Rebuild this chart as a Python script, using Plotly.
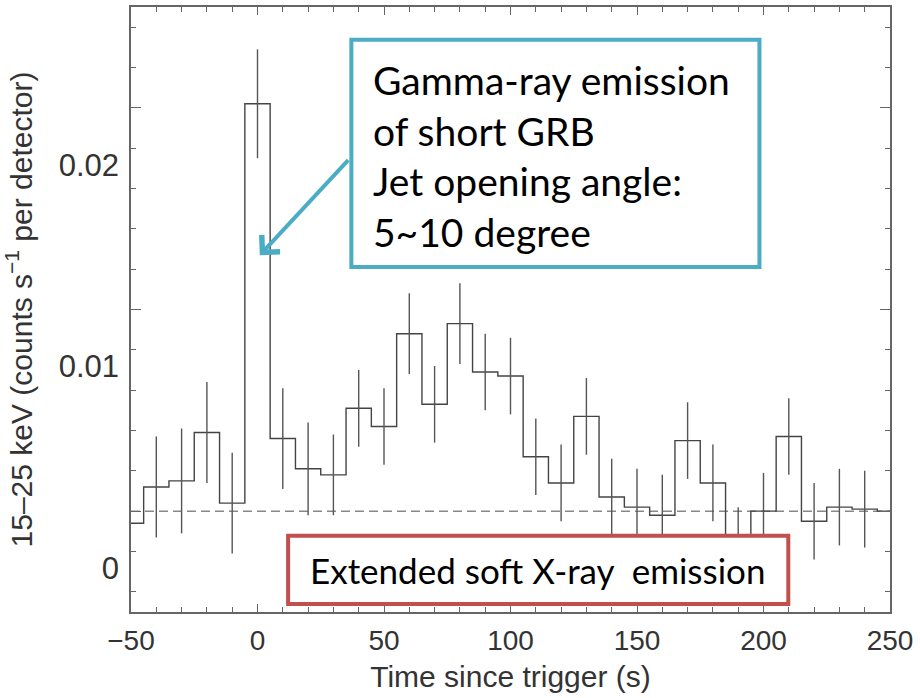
import plotly.graph_objects as go

# ---- data ----
times = [-50, -40, -30, -20, -10, 0, 10, 20, 30, 40, 50, 60, 70, 80, 90, 100,
         110, 120, 130, 140, 150, 160, 170, 180, 190, 200, 210, 220, 230, 240, 250]
rates = [-0.0006, 0.0012, 0.0015, 0.0039, 0.0004, 0.0202, 0.0036, 0.0021, 0.0018,
         0.0051, 0.0042, 0.0088, 0.0053, 0.0093, 0.0069, 0.0067, 0.0027, 0.0014,
         0.0047, 0.0007, 0.0002, -0.0002, 0.0035, 0.0014, -0.0017, 0.0000, 0.0037,
         -0.0005, 0.0002, 0.0001, 0.0000]
errors = [0, 0.0025, 0.0026, 0.0025, 0.0025, 0.0027, 0.0025, 0.0023, 0.0020,
          0.0019, 0.0019, 0.0020, 0.0019, 0.0020, 0.0019, 0.0019, 0.0019, 0.0019,
          0.0019, 0.0019, 0.0019, 0.0020, 0.0019, 0.0019, 0.0019, 0.0019, 0.0019,
          0.0019, 0.0019, 0.0019, 0]
baseline = 0.0

x_title = "Time since trigger (s)"
y_title = "15–25 keV (counts s<sup>−1</sup> per detector)"
gamma_text = "Gamma-ray emission<br>of short GRB<br>Jet opening angle:<br>5~10 degree"
xray_text = "Extended soft X-ray\u00a0 emission"

SANS = "Liberation Sans, Arial, sans-serif"
XTICK_FONT = dict(family=SANS, size=28, color="#333333")
YTICK_FONT = dict(family=SANS, size=31, color="#333333")
XTITLE_FONT = dict(family=SANS, size=30, color="#333333")
YTITLE_FONT = dict(family=SANS, size=30, color="#333333")
BLUE_FONT = dict(family="Lato, sans-serif", size=39, color="#000000")
RED_FONT = dict(family="Lato, sans-serif", size=35, color="#000000")
BLUE = "#4BACC6"
RED = "#C0504D"
FRAME = "#666666"

fig = go.Figure()
fig.add_trace(go.Scatter(
    x=times, y=rates, mode="lines",
    line=dict(shape="hvh", color="#444444", width=1.4),
    hoverinfo="skip", showlegend=False))
fig.add_trace(go.Scatter(
    x=times, y=rates, mode="markers",
    marker=dict(size=1, color="rgba(0,0,0,0)"),
    error_y=dict(type="data", array=errors, visible=True, width=0,
                 thickness=1.4, color="#555555"),
    hoverinfo="skip", showlegend=False))

fig.add_shape(type="line", xref="paper", x0=0, x1=1, yref="y",
              y0=baseline, y1=baseline, layer="below",
              line=dict(color="#888888", width=1.5, dash="9px,5px"))

# annotation boxes
fig.add_shape(type="rect", xref="x", yref="y", x0=37.1, x1=198.4,
              y0=0.01211, y1=0.02337, layer="above",
              line=dict(color=BLUE, width=4), fillcolor="white")
fig.add_shape(type="rect", xref="x", yref="y", x0=12.1, x1=209.8,
              y0=-0.0046, y1=-0.00122, layer="above",
              line=dict(color=RED, width=4), fillcolor="white")

fig.add_annotation(x=45.0, y=0.01760, xref="x", yref="y", text=gamma_text,
                   showarrow=False, xanchor="left", yanchor="middle",
                   align="left", font=BLUE_FONT)
fig.add_annotation(x=19.9, y=-0.00291, xref="x", yref="y", text=xray_text,
                   showarrow=False, xanchor="left", yanchor="middle",
                   align="left", font=RED_FONT)
fig.add_annotation(x=0.9, y=0.01269, xref="x", yref="y",
                   ax=36.4, ay=0.01748, axref="x", ayref="y",
                   text="", showarrow=True, arrowhead=4, arrowsize=1.2,
                   arrowwidth=4, arrowcolor=BLUE)

fig.update_layout(
    width=920, height=698,
    margin=dict(l=131, r=30, t=7, b=86),
    paper_bgcolor="white", plot_bgcolor="white",
    showlegend=False,
    xaxis=dict(
        range=[-50, 250], tickmode="linear", tick0=0, dtick=50,
        ticks="inside", ticklen=8, tickwidth=1.2, tickcolor=FRAME,
        minor=dict(dtick=10, tick0=0, ticks="inside", ticklen=5,
                   tickwidth=1.2, tickcolor=FRAME),
        showline=True, linecolor=FRAME, linewidth=1.5, mirror="allticks",
        showgrid=False, zeroline=False, tickfont=XTICK_FONT,
        ticklabelstandoff=3,
        title=dict(text=x_title, font=XTITLE_FONT, standoff=11),
        automargin=False),
    yaxis=dict(
        range=[-0.005, 0.025], tickmode="linear", tick0=0, dtick=0.01,
        ticks="inside", ticklen=10, tickwidth=1.2, tickcolor=FRAME,
        minor=dict(dtick=0.002, tick0=0, ticks="inside", ticklen=5,
                   tickwidth=1.2, tickcolor=FRAME),
        showline=True, linecolor=FRAME, linewidth=1.5, mirror="allticks",
        showgrid=False, zeroline=False, tickfont=YTICK_FONT,
        ticklabelshift=57, ticklabelstandoff=4,
        title=dict(text=y_title, font=YTITLE_FONT, standoff=18),
        automargin=False),
)

fig.write_html("out.html")
